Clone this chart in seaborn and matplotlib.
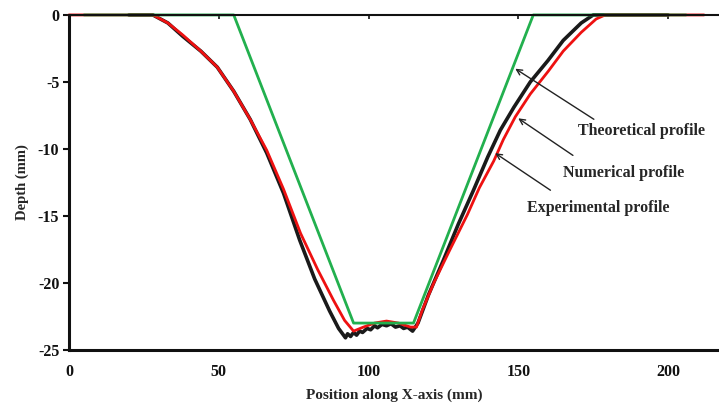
import numpy as np
import pandas as pd
import matplotlib
matplotlib.use("Agg")
import matplotlib.pyplot as plt
import seaborn as sns

# Theoretical profile (green)
theo_x = [5, 55, 95, 115, 155, 206]
theo_y = [0, 0, -23, -23, 0, 0]

# Numerical profile (red)
num_x = [0, 28, 33, 38, 44, 49.5, 55, 60.5, 66, 71.6, 77.3, 83, 88.3, 92, 95, 98.3, 102, 106, 110,
         114, 116, 118, 121.8, 127, 133, 137, 141.8, 145, 149, 154, 160, 165, 171, 176, 179, 212]
num_y = [0, 0, -0.6, -1.5, -2.7, -3.9, -5.7, -7.8, -10.1, -13.0, -16.3, -19.0, -21.3, -22.8, -23.6,
         -23.3, -23.0, -22.85, -23.0, -23.3, -23.3, -22.0, -20.0, -17.6, -14.9, -12.9, -10.9, -9.3,
         -7.6, -5.9, -4.2, -2.7, -1.3, -0.3, 0, 0]

# Experimental profile (black)
exp_x = [20, 28, 33, 38, 44, 49.5, 55, 60.5, 66, 71.6, 77, 82, 87, 90, 92.3, 93, 94, 95, 96, 97, 98,
         99.5, 100.7, 102, 103, 104.5, 106, 107.5, 109, 110.5, 111.7, 113, 114.7, 116.5, 120, 125,
         130, 135, 139.8, 144, 148.5, 154, 159.9, 165, 171, 175, 200]
exp_y = [0, 0, -0.6, -1.6, -2.7, -3.9, -5.7, -7.8, -10.3, -13.3, -16.8, -19.7, -22.1, -23.4, -24.1,
         -23.8, -24.0, -23.7, -23.9, -23.6, -23.7, -23.4, -23.5, -23.2, -23.35, -23.1, -23.2, -23.05,
         -23.3, -23.2, -23.4, -23.3, -23.6, -23.0, -20.9, -18.3, -15.6, -13.1, -10.6, -8.6, -6.9,
         -5.0, -3.4, -1.9, -0.6, 0, 0]

x_ticks = [0, 50, 100, 150, 200]
y_ticks = [-25, -20, -15, -10, -5, 0]

sns.set_style("white")
plt.rcParams["font.family"] = ["Liberation Serif", "DejaVu Serif"]
plt.rcParams["font.weight"] = "bold"

fig = plt.figure(figsize=(7.19, 4.04), dpi=100)
ax = fig.add_axes([0.096, 0.134, 0.904, 0.829])

df_exp = pd.DataFrame({"x": exp_x, "y": exp_y})
df_num = pd.DataFrame({"x": num_x, "y": num_y})
df_theo = pd.DataFrame({"x": theo_x, "y": theo_y})

sns.lineplot(data=df_exp, x="x", y="y", sort=False, color="#1a1a1a", lw=2.6, ax=ax, clip_on=False)
sns.lineplot(data=df_num, x="x", y="y", sort=False, color="#ee1111", lw=2.0, ax=ax, clip_on=False)
sns.lineplot(data=df_theo, x="x", y="y", sort=False, color="#22b04e", lw=2.0, ax=ax, clip_on=False)

ax.set_xlim(0, 217)
ax.set_ylim(-25, 0)
ax.set_xticks(x_ticks)
ax.set_yticks(y_ticks)
ax.set_xticklabels([str(v) for v in x_ticks], fontsize=11.5, fontweight="bold")
ax.set_yticklabels([str(v) for v in y_ticks], fontsize=11.5, fontweight="bold")

for s in ["left", "bottom", "top"]:
    ax.spines[s].set_visible(True)
    ax.spines[s].set_color("#111111")
ax.spines["left"].set_linewidth(2.2)
ax.spines["bottom"].set_linewidth(2.2)
ax.spines["top"].set_linewidth(1.5)
ax.spines["right"].set_visible(False)

ax.tick_params(axis="x", which="both", bottom=False, top=True, direction="in", length=3,
               width=1.2, labelbottom=True, labeltop=False, pad=10, colors="#111111")
ax.tick_params(axis="y", left=True, direction="out", length=4, width=1.5, pad=3, colors="#111111")

ax.set_xlabel("Position along X-axis (mm)", fontsize=11, fontweight="bold", labelpad=6)
ax.set_ylabel("Depth (mm)", fontsize=10.5, fontweight="bold", labelpad=6)

arrow = dict(arrowstyle="->", color="#222222", lw=1.0)
ax.annotate("", xy=(148.2, -3.9), xytext=(176, -7.9), arrowprops=arrow)
ax.text(170, -8.7, "Theoretical profile", fontsize=11.5, fontweight="bold", va="center", ha="left")
ax.annotate("", xy=(149.2, -7.6), xytext=(169, -10.6), arrowprops=arrow)
ax.text(165, -11.8, "Numerical profile", fontsize=11.5, fontweight="bold", va="center", ha="left")
ax.annotate("", xy=(141.5, -10.2), xytext=(161.5, -13.2), arrowprops=arrow)
ax.text(153, -14.4, "Experimental profile", fontsize=11.5, fontweight="bold", va="center", ha="left")

fig.savefig("out.png", dpi=100)
